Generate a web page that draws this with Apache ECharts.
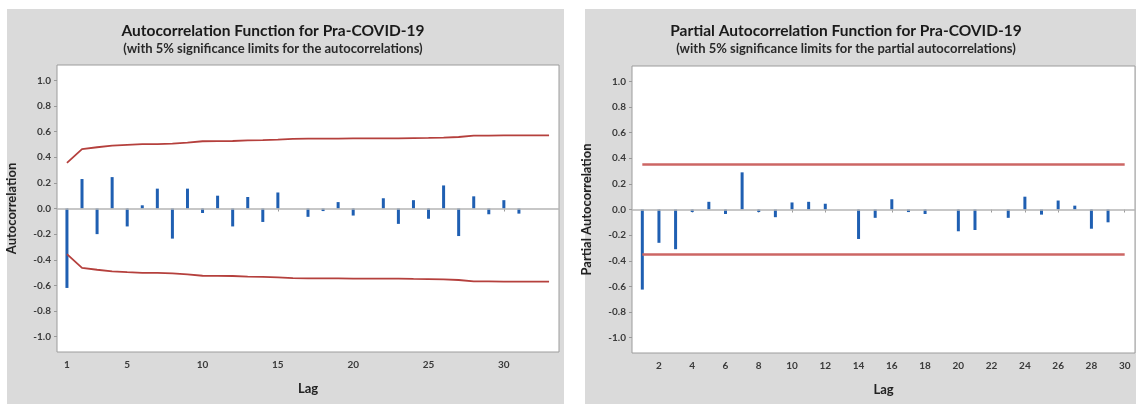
<!DOCTYPE html>
<html>
<head>
<meta charset="utf-8">
<script src="https://cdn.jsdelivr.net/npm/echarts@6/dist/echarts.min.js"></script>
<style>
  html, body { margin: 0; padding: 0; background: #fff; }
  #chart { width: 1136px; height: 404px; }
</style>
</head>
<body>
<div id="chart"></div>
<script>
// ACF data (lag 1..33)
const acfLags = [1, 2, 3, 4, 5, 6, 7, 8, 9, 10, 11, 12, 13, 14, 15, 16, 17, 18, 19, 20, 21, 22, 23, 24, 25, 26, 27, 28, 29, 30, 31, 32, 33];
const acfValues = [-0.62, 0.23, -0.20, 0.245, -0.14, 0.025, 0.155, -0.235, 0.155, -0.035, 0.10, -0.14, 0.09, -0.105, 0.125, 0, -0.065, -0.02, 0.05, -0.055, 0, 0.08, -0.12, 0.065, -0.08, 0.18, -0.215, 0.095, -0.045, 0.065, -0.04, 0, 0];
const acfUpper = [0.356, 0.463, 0.478, 0.490, 0.497, 0.503, 0.503, 0.506, 0.514, 0.525, 0.526, 0.527, 0.532, 0.534, 0.538, 0.543, 0.545, 0.546, 0.546, 0.547, 0.547, 0.548, 0.548, 0.550, 0.551, 0.553, 0.558, 0.568, 0.569, 0.570, 0.571, 0.571, 0.571];
const acfLower = [-0.356, -0.463, -0.478, -0.490, -0.497, -0.503, -0.503, -0.506, -0.514, -0.525, -0.526, -0.527, -0.532, -0.534, -0.538, -0.543, -0.545, -0.546, -0.546, -0.547, -0.547, -0.548, -0.548, -0.550, -0.551, -0.553, -0.558, -0.568, -0.569, -0.570, -0.571, -0.571, -0.571];
const acfTicks = [1, 5, 10, 15, 20, 25, 30];

// PACF data (lag 1..30)
const pacfLags = [1, 2, 3, 4, 5, 6, 7, 8, 9, 10, 11, 12, 13, 14, 15, 16, 17, 18, 19, 20, 21, 22, 23, 24, 25, 26, 27, 28, 29, 30];
const pacfValues = [-0.625, -0.26, -0.31, -0.02, 0.06, -0.035, 0.29, -0.02, -0.06, 0.055, 0.06, 0.045, 0, -0.23, -0.065, 0.08, -0.02, -0.035, 0, -0.17, -0.16, 0, -0.065, 0.10, -0.04, 0.07, 0.03, -0.15, -0.10, 0];
const pacfLimitLags = [1, 30];
const pacfUpper = [0.352, 0.352];
const pacfLower = [-0.352, -0.352];
const pacfTicks = [2, 4, 6, 8, 10, 12, 14, 16, 18, 20, 22, 24, 26, 28, 30];

const yTicks = [-1.0, -0.8, -0.6, -0.4, -0.2, 0.0, 0.2, 0.4, 0.6, 0.8, 1.0];

const FONT = 'Lato, "Open Sans", sans-serif';
const barColor = '#1f5fb2';

const chart = echarts.init(document.getElementById('chart'));

const zip = (xs, ys) => xs.map((x, i) => [x, ys[i]]);

const yAxisCommon = (name) => ({
  type: 'value',
  min: -1.12,
  max: 1.12,
  name: name,
  nameLocation: 'middle',
  nameGap: 39,
  nameTextStyle: { fontFamily: FONT, fontWeight: 'bold', fontSize: 13, color: '#222' },
  axisLine: { show: false },
  splitLine: { show: false },
  axisTick: { show: true, length: 3, customValues: yTicks, lineStyle: { color: '#999' } },
  axisLabel: {
    customValues: yTicks,
    margin: 6,
    fontFamily: FONT, fontWeight: 'bold', fontSize: 10, color: '#3a3a3a',
    formatter: v => v.toFixed(1)
  }
});

const xAxisCommon = (min, max, ticks) => ({
  type: 'value',
  min: min,
  max: max,
  name: 'Lag',
  nameLocation: 'middle',
  nameGap: 30,
  nameTextStyle: { fontFamily: FONT, fontWeight: 'bold', fontSize: 13, color: '#222' },
  axisLine: { show: false },
  splitLine: { show: false },
  axisTick: { show: true, length: 3, customValues: ticks, lineStyle: { color: '#999' } },
  axisLabel: { customValues: ticks, margin: 8, fontFamily: FONT, fontWeight: 'bold', fontSize: 10, color: '#3a3a3a' }
});

const zeroLine = {
  silent: true,
  symbol: 'none',
  label: { show: false },
  lineStyle: { color: '#b4b4b4', type: 'solid', width: 1.5 },
  data: [{ yAxis: 0 }]
};

chart.setOption({
  animation: false,
  backgroundColor: '#fff',
  graphic: [
    { type: 'rect', z: -10, shape: { x: 7, y: 9, width: 557, height: 395 }, style: { fill: '#dadada' } },
    { type: 'rect', z: -10, shape: { x: 585, y: 9, width: 551, height: 395 }, style: { fill: '#dadada' } }
  ],
  title: [
    {
      text: 'Autocorrelation Function for Pra-COVID-19',
      subtext: '(with 5% significance limits for the autocorrelations)',
      left: 268, top: 18, textAlign: 'center', itemGap: 3,
      textStyle: { fontFamily: FONT, fontWeight: 'bold', fontSize: 15.5, color: '#1a1a1a' },
      subtextStyle: { fontFamily: FONT, fontWeight: 'bold', fontSize: 13, color: '#2a2a2a' }
    },
    {
      text: 'Partial Autocorrelation Function for Pra-COVID-19',
      subtext: '(with 5% significance limits for the partial autocorrelations)',
      left: 841, top: 18, textAlign: 'center', itemGap: 3,
      textStyle: { fontFamily: FONT, fontWeight: 'bold', fontSize: 15.5, color: '#1a1a1a' },
      subtextStyle: { fontFamily: FONT, fontWeight: 'bold', fontSize: 13, color: '#2a2a2a' }
    }
  ],
  grid: [
    { left: 57, top: 65, width: 502, height: 287, show: true, backgroundColor: '#fff', borderColor: '#9c9c9c', borderWidth: 1 },
    { left: 632, top: 66, width: 503, height: 287, show: true, backgroundColor: '#fff', borderColor: '#9c9c9c', borderWidth: 1 }
  ],
  xAxis: [
    Object.assign(xAxisCommon(0.34, 33.66, acfTicks), { gridIndex: 0 }),
    Object.assign(xAxisCommon(0.38, 30.62, pacfTicks), { gridIndex: 1 })
  ],
  yAxis: [
    Object.assign(yAxisCommon('Autocorrelation'), { gridIndex: 0 }),
    Object.assign(yAxisCommon('Partial Autocorrelation'), { gridIndex: 1 })
  ],
  series: [
    {
      type: 'bar', xAxisIndex: 0, yAxisIndex: 0,
      data: zip(acfLags, acfValues),
      barWidth: 3,
      itemStyle: { color: barColor },
      markLine: zeroLine
    },
    {
      type: 'line', xAxisIndex: 0, yAxisIndex: 0,
      data: zip(acfLags, acfUpper), showSymbol: false,
      lineStyle: { color: '#b5403d', width: 1.8 }
    },
    {
      type: 'line', xAxisIndex: 0, yAxisIndex: 0,
      data: zip(acfLags, acfLower), showSymbol: false,
      lineStyle: { color: '#b5403d', width: 1.8 }
    },
    {
      type: 'bar', xAxisIndex: 1, yAxisIndex: 1,
      data: zip(pacfLags, pacfValues),
      barWidth: 3,
      itemStyle: { color: barColor },
      markLine: zeroLine
    },
    {
      type: 'line', xAxisIndex: 1, yAxisIndex: 1,
      data: zip(pacfLimitLags, pacfUpper), showSymbol: false,
      lineStyle: { color: '#cc6664', width: 2.5 }
    },
    {
      type: 'line', xAxisIndex: 1, yAxisIndex: 1,
      data: zip(pacfLimitLags, pacfLower), showSymbol: false,
      lineStyle: { color: '#cc6664', width: 2.5 }
    }
  ]
});
</script>
</body>
</html>
